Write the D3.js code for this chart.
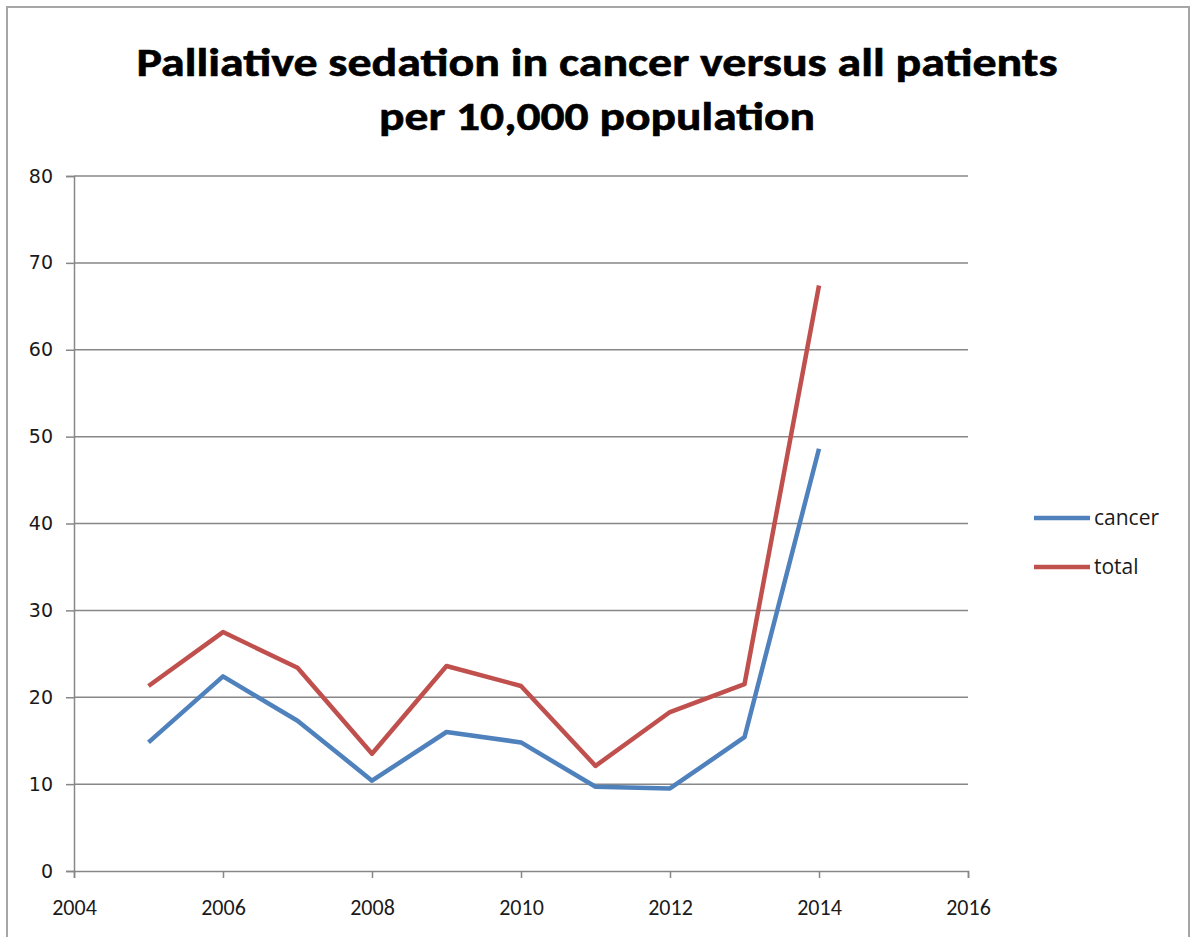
<!DOCTYPE html>
<html>
<head>
<meta charset="utf-8">
<script src="https://cdn.jsdelivr.net/npm/d3@7"></script>
<style>
  html, body { margin: 0; padding: 0; background: #fff; }
  svg { display: block; }
</style>
</head>
<body>
<svg id="chart" width="1192" height="937"></svg>
<script>
const years = [2005, 2006, 2007, 2008, 2009, 2010, 2011, 2012, 2013, 2014];
const cancer = [14.8, 22.4, 17.3, 10.4, 16.0, 14.8, 9.7, 9.5, 15.4, 48.6];
const total = [21.3, 27.5, 23.4, 13.5, 23.6, 21.3, 12.1, 18.3, 21.5, 67.4];
const seriesNames = ["cancer", "total"];
const seriesColors = ["#4F81BD", "#C0504D"];
const xTicks = [2004, 2006, 2008, 2010, 2012, 2014, 2016];
const yTicks = [0, 10, 20, 30, 40, 50, 60, 70, 80];
const titleLines = ["Palliative sedation in cancer versus all patients", "per 10,000 population"];

const svg = d3.select("#chart");

// outer frame
svg.append("rect")
  .attr("x", 7).attr("y", 7).attr("width", 1182).attr("height", 940)
  .attr("fill", "#fff").attr("stroke", "#a6a6a6").attr("stroke-width", 2);

// title
const titleFont = "Carlito, Lato, 'Open Sans', sans-serif";
svg.append("text")
  .attr("x", 597).attr("y", 76).attr("text-anchor", "middle")
  .attr("font-family", titleFont).attr("font-weight", "bold").attr("font-size", 40)
  .attr("fill", "#000").attr("stroke", "#000").attr("stroke-width", 0.6)
  .attr("textLength", 921).attr("lengthAdjust", "spacingAndGlyphs")
  .text(titleLines[0]);
svg.append("text")
  .attr("x", 597).attr("y", 130).attr("text-anchor", "middle")
  .attr("font-family", titleFont).attr("font-weight", "bold").attr("font-size", 40)
  .attr("fill", "#000").attr("stroke", "#000").attr("stroke-width", 0.6)
  .attr("textLength", 436).attr("lengthAdjust", "spacingAndGlyphs")
  .text(titleLines[1]);

const x = d3.scaleLinear().domain([2004, 2016]).range([74, 968]);
const y = d3.scaleLinear().domain([0, 80]).range([871, 176]);

// gridlines
svg.append("g").selectAll("line").data(yTicks.filter(d => d > 0)).join("line")
  .attr("x1", x(2004)).attr("x2", x(2016))
  .attr("y1", d => y(d)).attr("y2", d => y(d))
  .attr("stroke", "#878787").attr("stroke-width", 1.5);

// y axis
const yAxis = svg.append("g").attr("transform", `translate(${x(2004)},0)`)
  .call(d3.axisLeft(y).tickValues(yTicks).tickSize(8).tickPadding(13).tickFormat(d3.format("d")));
yAxis.select(".domain").attr("stroke", "#878787").attr("stroke-width", 1.5);
yAxis.selectAll(".tick line").attr("stroke", "#878787").attr("stroke-width", 1.5);
yAxis.selectAll(".tick text")
  .style("font-family", "'DejaVu Sans', Verdana, sans-serif")
  .style("font-size", "19px").attr("fill", "#1a1a1a");

// x axis
const xAxis = svg.append("g").attr("transform", `translate(0,${y(0)})`)
  .call(d3.axisBottom(x).tickValues(xTicks).tickSize(7).tickPadding(21).tickFormat(d3.format("d")));
xAxis.select(".domain").attr("stroke", "#878787").attr("stroke-width", 1.5);
xAxis.selectAll(".tick line").attr("stroke", "#878787").attr("stroke-width", 1.5);
xAxis.selectAll(".tick text")
  .style("font-family", "Carlito, Lato, 'Open Sans', sans-serif")
  .style("font-size", "22px").attr("fill", "#1a1a1a");

// lines
const line = d3.line().x((d, i) => x(years[i])).y(d => y(d));
const allSeries = [cancer, total];
svg.append("g").selectAll("path").data(allSeries).join("path")
  .attr("d", d => line(d))
  .attr("fill", "none")
  .attr("stroke", (d, i) => seriesColors[i])
  .attr("stroke-width", 4.5)
  .attr("stroke-linejoin", "round");

// legend
const legend = svg.append("g").selectAll("g").data(seriesNames).join("g")
  .attr("transform", (d, i) => `translate(1034,${518 + i * 49})`);
legend.append("line")
  .attr("x1", 0).attr("x2", 56).attr("y1", 0).attr("y2", 0)
  .attr("stroke", (d, i) => seriesColors[i]).attr("stroke-width", 4.5);
legend.append("text")
  .attr("x", 60).attr("y", 7)
  .attr("font-family", "'Open Sans', 'DejaVu Sans', sans-serif")
  .attr("font-size", 21).attr("fill", "#1a1a1a")
  .text(d => d);
</script>
</body>
</html>
